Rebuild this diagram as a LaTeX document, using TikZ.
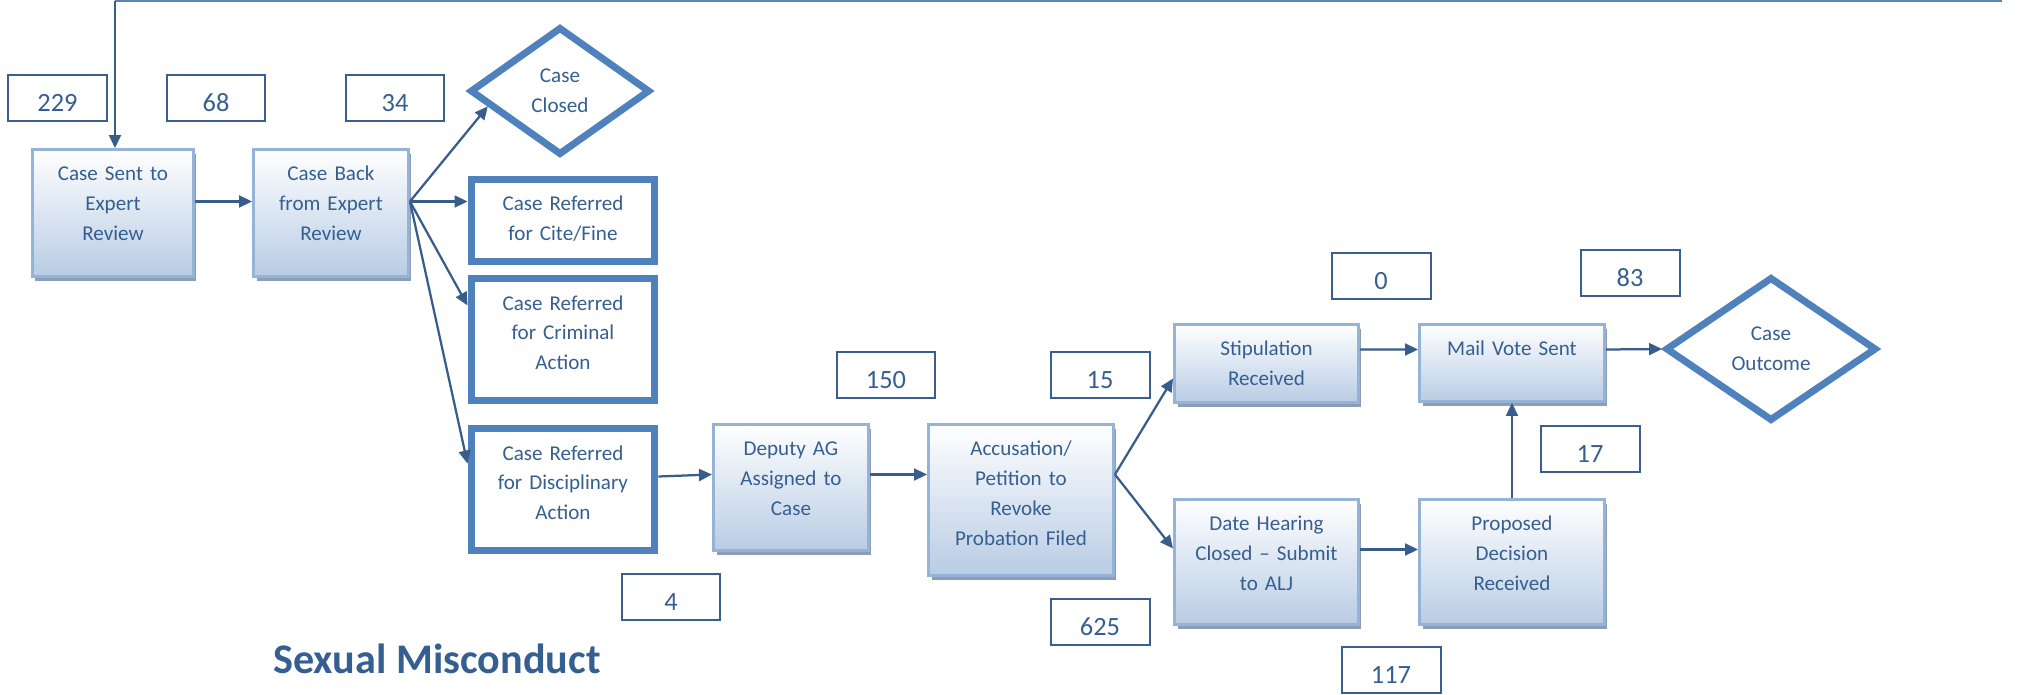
\documentclass[tikz,border=0pt]{standalone}
\usepackage{fontspec}
\setmainfont{Carlito}
\usetikzlibrary{shapes.geometric, arrows.meta, shadows}

\definecolor{arrowblue}{RGB}{56,93,138}
\definecolor{textblue}{RGB}{54,95,145}
\definecolor{boxline}{RGB}{149,179,215}
\definecolor{boxfill}{RGB}{184,204,228}
\definecolor{boxshadow}{RGB}{140,158,182}
\definecolor{referline}{RGB}{79,129,189}
\definecolor{countline}{RGB}{58,95,143}
\definecolor{feedline}{RGB}{94,130,178}

\begin{document}
\begin{tikzpicture}[
  x=0.02cm, y=-0.02cm,
  stepbox/.style 2 args={rectangle, draw=boxline, line width=0.06cm,
                top color=white, bottom color=boxfill,
                drop shadow={shadow xshift=0.06cm, shadow yshift=-0.09cm,
                             fill=boxshadow, opacity=1},
                inner sep=0pt, align=center, text width=#1,
                text height=0.62cm, text depth=#2, anchor=north west,
                font=\fontsize{12}{17}\selectfont, text=textblue},
  referbox/.style 2 args={rectangle, draw=referline, line width=0.14cm, fill=white,
                inner sep=0pt, align=center, text width=#1,
                text height=0.64cm, text depth=#2, anchor=north west,
                font=\fontsize{12}{17}\selectfont, text=textblue},
  decision/.style 2 args={diamond, draw=referline, line width=0.14cm, fill=white,
                minimum width=#1, minimum height=#2, inner sep=0pt, align=center,
                font=\fontsize{12}{17}\selectfont, text=textblue},
  count/.style={rectangle, draw=countline, line width=0.04cm, fill=white,
                minimum width=1.98cm, minimum height=0.92cm, inner sep=0pt,
                text height=0.535cm, text depth=0pt,
                font=\fontsize{15}{18}\selectfont, text=textblue},
  arrow/.style={-{Triangle[length=0.26cm, width=0.24cm]}, line width=0.045cm, draw=arrowblue}
]
\useasboundingbox (0,0) rectangle (2036,694);

% Intake — expert review
\node[stepbox={3.22cm}{1.92cm}] (sent) at (31,148) {Case Sent to\\Expert\\Review};
\node[stepbox={3.10cm}{1.92cm}] (back) at (252,148) {Case Back\\from Expert\\Review};

% Referral outcomes
\node[decision={3.6cm}{2.56cm}] (closed) at (560,91) {Case\\Closed};
\node[referbox={3.68cm}{1.02cm}] (cite) at (467.5,175.5) {Case Referred\\for Cite/Fine};
\node[referbox={3.68cm}{1.82cm}] (crim) at (467.5,274.5) {Case Referred\\for Criminal\\Action};
\node[referbox={3.68cm}{1.82cm}] (disc) at (467.5,424.5) {Case Referred\\for Disciplinary\\Action};

% Disciplinary track
\node[stepbox={3.10cm}{1.90cm}] (deputy) at (712,423) {Deputy AG\\Assigned to\\Case};
\node[stepbox={3.70cm}{2.40cm}] (accus) at (927,423) {Accusation/\\Petition to\\Revoke\\Probation Filed};
\node[stepbox={3.68cm}{0.94cm}] (stip) at (1173,323) {Stipulation\\Received};
\node[stepbox={3.70cm}{0.92cm}] (mail) at (1418,323) {Mail Vote Sent};
\node[stepbox={3.68cm}{1.88cm}] (hearing) at (1173,498) {Date Hearing\\Closed – Submit\\to ALJ};
\node[stepbox={3.70cm}{1.88cm}] (proposed) at (1418,498) {Proposed\\Decision\\Received};
\node[decision={4.22cm}{2.88cm}] (outcome) at (1771,349) {Case\\Outcome};

% Counts
\node[count] (c229) at (57.5,98) {229};
\node[count] (c68)  at (216,98) {68};
\node[count] (c34)  at (395,98) {34};
\node[count] (c150) at (886,375) {150};
\node[count] (c4)   at (671,597) {4};
\node[count] (c15)  at (1100,375) {15};
\node[count] (c625) at (1100,622) {625};
\node[count] (c0)   at (1381,276) {0};
\node[count] (c83)  at (1630,273) {83};
\node[count] (c17)  at (1590,449) {17};
\node[count] (c117) at (1391,670) {117};

\node[anchor=base, font=\fontsize{24}{28}\selectfont\bfseries, text=textblue]
  (title) at (437,673) {Sexual Misconduct};

% Feed line from the top
\coordinate (feedL) at (115,1);
\coordinate (feedR) at (2002,1);
\draw[feedline, line width=0.04cm] (feedR) -- (feedL);
\draw[arrow] (feedL) -- (feedL |- sent.north);

% Arrows
\draw[arrow] ([yshift=0.23cm]sent.east) -- ([yshift=0.23cm]back.west);
\coordinate (fanA) at ([yshift=0.23cm]back.east);
\draw[arrow] (fanA) -- (closed.192);
\draw[arrow] (fanA) -- (fanA -| cite.west);
\draw[arrow] (fanA) -- ([yshift=0.68cm]crim.west);
\draw[arrow] (fanA) -- ([yshift=0.52cm]disc.west);
\draw[arrow] ([yshift=0.26cm]disc.east) -- ([yshift=0.26cm]deputy.west);
\draw[arrow] ([yshift=0.26cm]deputy.east) -- ([yshift=0.51cm]accus.west);
\coordinate (fanB) at ([yshift=0.51cm]accus.east);
\draw[arrow] (fanB) -- ([yshift=-0.3cm]stip.west);
\draw[arrow] (fanB) -- ([yshift=0.27cm]hearing.west);
\draw[arrow] ([yshift=0.28cm]stip.east) -- ([yshift=0.27cm]mail.west);
\draw[arrow] ([yshift=0.27cm]mail.east) -- (outcome.west);
\draw[arrow] ([yshift=0.25cm]hearing.east) -- ([yshift=0.25cm]proposed.west);
\draw[arrow] (proposed.north) -- (mail.south);

\end{tikzpicture}
\end{document}
